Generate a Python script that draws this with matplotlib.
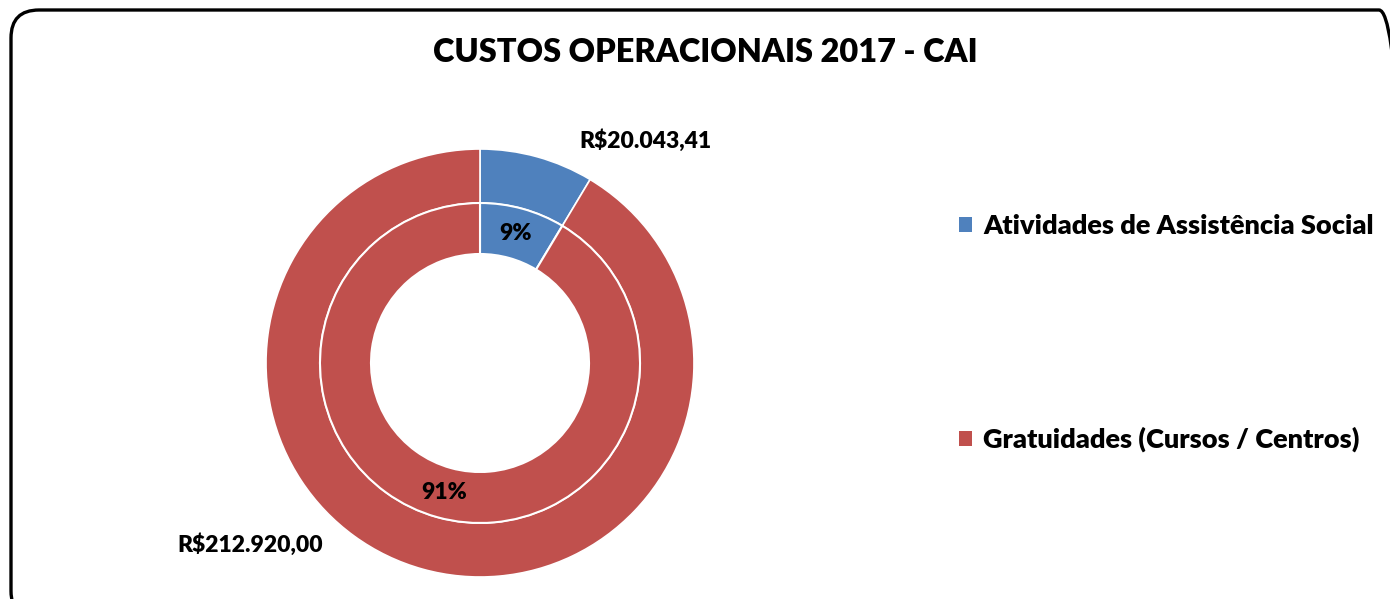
import matplotlib
matplotlib.use("Agg")
import matplotlib.pyplot as plt
from matplotlib.patches import FancyBboxPatch, Patch

categories = ["Atividades de Assistência Social", "Gratuidades (Cursos / Centros)"]
values = [20043.41, 212920.00]
value_labels = ["R$20.043,41", "R$212.920,00"]
colors = ["#4F81BD", "#C0504D"]
title = "CUSTOS OPERACIONAIS 2017 - CAI"

W, H = 1390, 599
plt.rcParams['font.family'] = ['Lato', 'DejaVu Sans']
fig = plt.figure(figsize=(W / 100, H / 100), dpi=100)
ax = fig.add_axes([0, 0, 1, 1])

# rounded border
border = FancyBboxPatch((11, -20), 1396, 609, boxstyle="round,pad=0,rounding_size=28",
                        linewidth=2.4, edgecolor='black', facecolor='none', zorder=0)
ax.add_patch(border)

cx, cy = 480, H - 363
R_out, R_mid, R_in = 214, 160, 109

ax.pie(values, radius=R_out, center=(cx, cy), colors=colors, startangle=90,
       counterclock=False, frame=True,
       wedgeprops=dict(width=R_out - R_mid, edgecolor='white', linewidth=1.2))
wedges, texts, autotexts = ax.pie(
    values, radius=R_mid, center=(cx, cy), colors=colors, startangle=90,
    counterclock=False, frame=True,
    autopct=lambda p: f"{p:.0f}%", pctdistance=(R_mid + R_in) / 2 / R_mid,
    wedgeprops=dict(width=R_mid - R_in, edgecolor='white', linewidth=1.5),
    textprops=dict(fontsize=16.5, fontweight='heavy', color='black'))
ax.set_xlim(0, W)
ax.set_ylim(0, H)
ax.set_aspect('equal')
ax.axis('off')

# outer value labels
ax.text(645, H - 141, value_labels[0], ha='center', va='center',
        fontsize=16.5, fontweight='heavy')
ax.text(250, H - 545, value_labels[1], ha='center', va='center',
        fontsize=16.5, fontweight='heavy')

fig.text(705 / W, 1 - 52 / H, title, ha='center', va='center',
         fontsize=23.4, fontweight='heavy')

handles = [Patch(facecolor=c, edgecolor='none') for c in colors]
leg = fig.legend(handles, categories, loc='upper left',
                 bbox_to_anchor=(935 / W, 1 - 190 / H), frameon=False,
                 prop=dict(size=19.5, weight='heavy'), handlelength=0.48,
                 handleheight=0.48, handletextpad=0.4, labelspacing=6.95)

fig.savefig("out.png", dpi=100, facecolor='white')
